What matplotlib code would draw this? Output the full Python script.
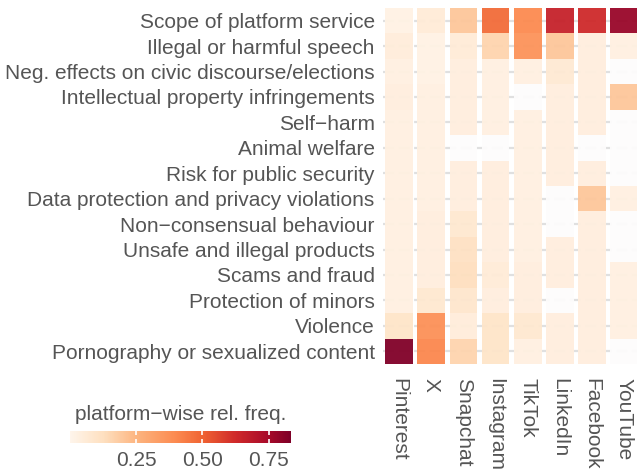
import numpy as np
import matplotlib.pyplot as plt
from matplotlib.colors import LinearSegmentedColormap, Normalize

plt.rcParams['font.family'] = ['Liberation Sans', 'DejaVu Sans']

categories = [
    "Scope of platform service",
    "Illegal or harmful speech",
    "Neg. effects on civic discourse/elections",
    "Intellectual property infringements",
    "Self\u2212harm",
    "Animal welfare",
    "Risk for public security",
    "Data protection and privacy violations",
    "Non\u2212consensual behaviour",
    "Unsafe and illegal products",
    "Scams and fraud",
    "Protection of minors",
    "Violence",
    "Pornography or sexualized content",
]
platforms = ["Pinterest", "X", "Snapchat", "Instagram", "TikTok", "LinkedIn", "Facebook", "YouTube"]

nan = np.nan
# one list per platform, rows in the order of categories (top to bottom)
pinterest = [0.02, 0.05, 0.03, 0.04, 0.03, 0.03, 0.03, 0.03, 0.03, 0.03, 0.03, 0.03, 0.10, 0.83]
x_vals    = [0.06, 0.02, 0.02, 0.03, 0.03, 0.03, 0.03, 0.03, 0.04, 0.04, 0.04, 0.08, 0.38, 0.41]
snapchat  = [0.20, 0.06, 0.04, 0.04, 0.04, nan,  0.04, 0.04, 0.08, 0.12, 0.13, 0.09, 0.05, 0.16]
instagram = [0.48, 0.16, 0.03, 0.03, 0.03, nan,  0.04, 0.04, 0.04, 0.04, 0.06, 0.04, 0.10, 0.10]
tiktok    = [0.40, 0.37, 0.03, nan,  0.03, 0.03, 0.03, 0.03, 0.03, 0.03, 0.04, 0.04, 0.08, 0.03]
linkedin  = [0.66, 0.20, 0.07, 0.04, 0.04, 0.04, 0.04, nan,  nan,  0.04, 0.04, nan,  0.04, 0.04]
facebook  = [0.63, 0.04, 0.04, 0.04, 0.04, nan,  0.04, 0.20, 0.04, 0.04, 0.04, 0.04, 0.04, 0.04]
youtube   = [0.78, 0.03, nan,  0.20, nan,  nan,  nan,  0.03, nan,  nan,  0.03, 0.03, 0.03, nan]
values = np.array([pinterest, x_vals, snapchat, instagram, tiktok, linkedin, facebook, youtube])

cbar_ticks = [0.25, 0.50, 0.75]

cmap = LinearSegmentedColormap.from_list("freq", [
    (0.0, "#fff5eb"), (0.15, "#fee0c0"), (0.30, "#fdb580"), (0.48, "#fc8a50"),
    (0.60, "#f06433"), (0.75, "#d02a2a"), (0.90, "#a80a2a"), (1.0, "#7f0028")])
norm = Normalize(0, 0.835)
txt = "#555555"
fs = 15

fig = plt.figure(figsize=(6.37, 4.70), dpi=100)
ax = fig.add_axes([383 / 637, 106 / 470, 254 / 637, 356 / 470])

n = len(categories)
# dashed row grid, partly visible through the tiles
for j in range(n):
    ax.axhline(n - 1 - j, color="#e0e0e0", lw=1.6, ls=(0, (5, 2)), zorder=0)

for i, p in enumerate(platforms):
    for j in range(n):
        v = values[i, j]
        y = n - 1 - j
        col = "#fdfcfc" if np.isnan(v) else cmap(norm(v))
        ax.bar(i, 1, width=0.86, bottom=y - 0.5, color=col, alpha=0.95, lw=0, zorder=1)

ax.set_xlim(-0.5, 7.4)
ax.set_ylim(-0.5, n - 0.5)
ax.set_yticks(range(n))
ax.set_yticklabels(categories[::-1], fontsize=fs, color=txt)
ax.set_xticks(range(len(platforms)))
ax.set_xticklabels(platforms, rotation=270, fontsize=fs, color=txt, va="top", ha="center")
ax.tick_params(axis="y", length=0, pad=6)
ax.tick_params(axis="x", length=0, pad=10)
for s in ax.spines.values():
    s.set_visible(False)

# colour bar
cax = fig.add_axes([70 / 637, 27 / 470, 221 / 637, 12 / 470])
grad = np.linspace(0, 0.835, 300)[None, :]
cax.imshow(grad, cmap=cmap, norm=norm, aspect="auto", extent=[0, 0.835, 0, 1])
cax.set_yticks([])
cax.set_xticks(cbar_ticks)
cax.set_xticklabels(["0.25", "0.50", "0.75"], fontsize=fs, color=txt)
cax.tick_params(axis="x", direction="in", length=3, color="white", width=1.2, pad=6,
                top=True, bottom=True)
for s in cax.spines.values():
    s.set_visible(False)
cax.set_title("platform\u2212wise rel. freq.", fontsize=fs, color=txt, pad=8)

fig.savefig("out.png", dpi=100)
